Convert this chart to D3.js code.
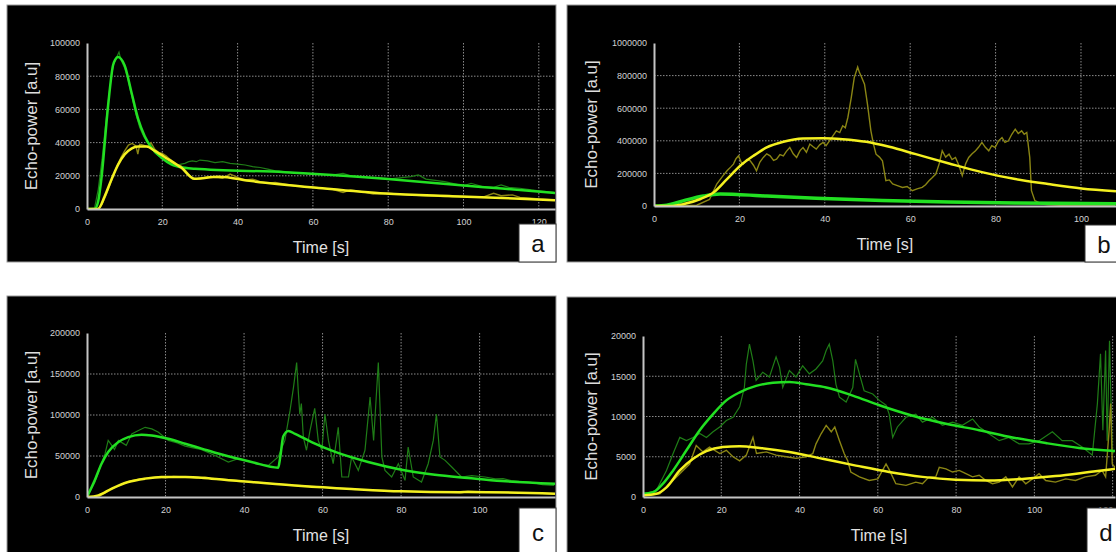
<html>
<head>
<meta charset="utf-8" />
<script src="https://d3js.org/d3.v7.min.js"></script>
<style>
  body { margin: 0; background: #fff; }
  svg { display: block; }
  .tick text { font: 9px "Liberation Sans", Arial, sans-serif; fill: #d2d2d2; }
</style>
</head>
<body>
<svg id="chart" width="1116" height="552"></svg>
<script>
// tick labels
var xTicks = [0, 20, 40, 60, 80, 100, 120];
var aYTicks = [0, 20000, 40000, 60000, 80000, 100000];
var bYTicks = [0, 200000, 400000, 600000, 800000, 1000000];
var cYTicks = [0, 50000, 100000, 150000, 200000];
var dYTicks = [0, 5000, 10000, 15000, 20000];

// panel a  [time s, echo-power]
var aGreenRaw = [[0,0],[2,500],[3,12000],[4,30000],[5,52000],[6,72000],[7,87000],[8,92000],[8.5,94500],[9,90000],[10,85000],[11,77000],[12,67000],[13,57000],[14,49000],[15,44000],[16,40000],[17,37000],[18,34000],[19,32000],[20,31000],[21,29000],[22,28000],[23,27500],[24,26500],[25,27000],[26,27500],[27,28500],[28,29000],[29,28500],[30,29500],[32,29000],[34,28000],[36,28500],[38,27500],[40,27000],[42,26500],[44,25500],[46,25000],[48,24000],[50,23000],[55,22000],[60,21000],[65,20500],[68,21500],[70,20000],[75,19000],[80,18000],[86,19500],[88,20500],[90,18000],[95,16500],[100,14000],[102,15500],[105,13500],[108,13000],[110,14500],[112,13000],[115,12500],[118,11500],[120,11000],[124,10000]];
var aGreenFit = [[0,0],[2,0],[3,5000],[3.8,17800],[5.6,62200],[6.9,86500],[7.5,90000],[8.25,91500],[9,90500],[10,86500],[11.8,70300],[13.6,54100],[15.3,44000],[17.1,37000],[19.8,30900],[22.4,26900],[26,24800],[28.7,24200],[52.6,22200],[79.2,18200],[97,14700],[110.3,12300],[124.3,9700]];
var aYellowRaw = [[0,0],[3,0],[4,3000],[5,8000],[6,14000],[7,20000],[8,26000],[9,31000],[10,35000],[11,38500],[12,39500],[13,38000],[13.5,33000],[14,39000],[15,38500],[16,37500],[17,40000],[18,36000],[19,34000],[20,33500],[21,32000],[22,30000],[23,28500],[24,26500],[25,26000],[26,23500],[27,21000],[28,18500],[30,18000],[32,19500],[34,19000],[36,18500],[38,21000],[40,19000],[42,17500],[44,18000],[46,16500],[48,15500],[50,16000],[55,14000],[60,13000],[65,12000],[68,10000],[70,11500],[73,10500],[76,9000],[80,9500],[85,8500],[90,8000],[95,7500],[100,7500],[105,7000],[108,9500],[110,8000],[113,8500],[115,7000],[118,6500],[120,6000],[124,5500]];
var aYellowFit = [[0,0],[2.9,0],[4.7,7700],[6.5,17800],[8.3,26900],[10,32900],[11.8,36400],[13.6,37600],[15.8,37600],[18,35000],[21.6,29900],[25.1,24800],[28.5,18200],[34.9,19400],[43.7,16800],[61.5,12700],[79.2,9300],[97,7700],[110.3,6700],[124.3,5300]];

// panel b
var bGreenRaw = [[0,0],[3,4000],[7,32000],[11.6,60000],[15.5,74000],[19.4,70000],[26.4,62000],[38,46000],[53.5,34000],[69,23000],[84.6,18500],[108,13500]];
var bGreenFit = [[0,0],[3,5000],[7,33000],[11.6,61000],[15.5,73000],[19.4,71000],[26.4,61000],[38,47000],[53.5,33000],[69,24000],[84.6,18000],[108.2,14000]];
var bYellowRaw = [[0,0],[5,0],[10,5000],[13,40000],[14.7,135000],[16,180000],[17.1,216000],[18,240000],[18.6,257000],[19.2,290000],[19.8,308000],[20.4,270000],[20.9,257000],[21.7,285000],[22.5,278000],[23.3,250000],[24,216000],[24.8,270000],[25.6,298000],[26.4,320000],[27.2,308000],[28,280000],[28.7,288000],[29.5,315000],[30.3,308000],[31,335000],[31.8,359000],[32.6,320000],[33.4,298000],[34.2,340000],[34.9,359000],[35.7,330000],[36.5,380000],[37.2,365000],[38,349000],[38.8,375000],[39.6,390000],[40.3,370000],[41.1,400000],[41.9,430000],[42.7,461000],[43.5,450000],[44.2,492000],[44.8,480000],[45.4,543000],[46.2,665000],[46.9,788000],[47.7,853000],[48.1,820000],[48.5,798000],[49.3,747000],[50,624000],[50.8,461000],[51.4,380000],[52,318000],[52.8,300000],[53.5,278000],[54.3,155000],[55.1,160000],[55.9,135000],[57,125000],[58.2,114000],[59.3,120000],[60.5,94000],[61.6,105000],[62.8,114000],[63.6,130000],[64.4,155000],[65.2,175000],[66,196000],[66.8,260000],[67.5,339000],[68.3,300000],[69.1,318000],[69.8,285000],[70.6,298000],[71.4,250000],[72.2,186000],[73,260000],[73.7,298000],[74.5,320000],[75.3,339000],[76,360000],[76.8,390000],[77.6,360000],[78.4,339000],[79.1,370000],[79.9,359000],[80.7,400000],[81.5,420000],[82.2,390000],[83,400000],[83.8,440000],[84.6,471000],[85.3,445000],[86.1,461000],[86.7,440000],[87.3,451000],[88,298000],[88.4,94000],[89.2,33000],[90.8,12000],[92.3,8000],[95,5000],[100,3000],[108,2000]];
var bYellowFit = [[0,0],[3.9,0],[7,12000],[10.9,43000],[14,84000],[17.1,165000],[20.2,247000],[23.3,308000],[26.4,359000],[30.3,394000],[34.9,414000],[39.6,416000],[44.2,410000],[49.7,394000],[55.1,363000],[61.3,318000],[69.1,261000],[76.8,208000],[84.6,165000],[92.3,135000],[100.1,108000],[108.2,90000]];

// panel c
var cGreenRaw = [[0,0],[2,18000],[3.5,38000],[4.6,52800],[5.4,69000],[6.3,63000],[7,58000],[8,69000],[9,66000],[10,63000],[11.4,77000],[13.1,81000],[14.8,85000],[16.5,83000],[18.2,79000],[20.7,69000],[23,66000],[25,62000],[27,60000],[29,58000],[31,54000],[33.4,48800],[36,42700],[38.5,46700],[41.9,42700],[44,40000],[46.2,38600],[48.7,48800],[50.4,69000],[51.7,105000],[52.6,134000],[53.4,164000],[53.8,130000],[54.2,101000],[54.6,114000],[55.1,73000],[55.9,57000],[56.8,81000],[58,108000],[58.9,69000],[59.8,57000],[60.6,101000],[61.5,69000],[62.7,40600],[64,85000],[64.9,24400],[66.6,24400],[67.4,48800],[69.1,32500],[70.8,57000],[72.1,122000],[73,69000],[74.2,164000],[75.1,48800],[75.9,32500],[77.6,24400],[79.3,40600],[81,20300],[81.8,61000],[83.1,24400],[85.2,18300],[86.9,40600],[88.2,69000],[89,101000],[89.9,48800],[91.2,44700],[92.9,36600],[95.4,24400],[98,26000],[101.4,24400],[104,22000],[106,22400],[108,20000],[110,19000],[113,18000],[116,15000],[119,14000]];
var cGreenFit = [[0,0],[2,20700],[3.7,40600],[5.4,54900],[8,67000],[10.5,73000],[13.9,76000],[16.5,75000],[20.7,71000],[25,65000],[29.2,59000],[33.4,53000],[37.7,47500],[41.9,42700],[48.7,35800],[49.2,48000],[50,74000],[51.3,80500],[53,77000],[57.2,67000],[63.2,55000],[71.6,42700],[80.1,33300],[88.6,27200],[97.1,23200],[105.6,19500],[119.2,16300]];
var cYellowRaw = [[0,0],[3,500],[5,6000],[7,11000],[9,16000],[11,19500],[13,21500],[15,23000],[18,24000],[20,23500],[22,25000],[25,24500],[28,23000],[30,24000],[33,22000],[36,21000],[40,19000],[44,17500],[48,16000],[52,14500],[56,13500],[60,12000],[65,10500],[70,9000],[75,8000],[80,7000],[85,6500],[90,6000],[95,5500],[97,7000],[100,6500],[105,6000],[110,5000],[115,4500],[119,4000]];
var cYellowFit = [[0,0],[2.9,2000],[6.3,10200],[10.5,18300],[14.8,22400],[19,24400],[25,24400],[31.7,22400],[41.9,18300],[54.7,13400],[67.4,9800],[80.1,6900],[95,5800],[97.1,6200],[119.2,4100]];

// panel d
var dGreenRaw = [[0,400],[3.4,800],[6,3300],[7.7,5400],[9.4,7400],[11.1,7000],[12.8,7400],[14.5,7900],[16.2,7400],[17.9,8100],[19.6,8700],[21.3,9500],[23,9900],[24.7,11200],[25.9,13600],[26.4,16500],[27.2,19000],[28.1,16900],[28.9,14500],[30.6,15500],[32.3,14900],[34,17400],[34.9,16100],[35.7,13600],[37.4,15700],[39.1,14900],[40.8,16300],[42.5,15300],[44.2,15900],[45.9,16900],[46.8,18200],[47.6,19000],[48.5,16900],[49.3,14000],[50.2,12400],[51.9,11800],[53.6,13600],[54.3,17100],[55.3,15300],[56.5,13200],[58.7,12800],[60.4,12000],[62.1,11400],[62.9,10300],[63.8,7400],[65,8700],[67.2,9900],[69.7,10300],[71.4,9300],[74,9900],[76.5,8900],[79.1,9300],[81.6,8900],[84.2,9700],[85.9,8700],[88.4,7850],[91,7000],[93.5,7400],[96.1,6600],[98.6,6600],[101.2,7000],[104.6,8100],[107.1,7000],[109.7,7000],[112.2,6200],[114.8,5200],[116.1,11600],[116.9,17800],[117.5,8300],[118.2,18200],[118.6,7000],[119.2,19400],[119.9,5400],[120.6,5800]];
var dGreenFit = [[0,400],[2.6,600],[5.1,1650],[7.7,3300],[11.1,5800],[14.5,8300],[17.9,10300],[21.3,12000],[24.7,13000],[28.9,13800],[33.2,14200],[37.4,14300],[41.7,14000],[46.8,13600],[53.6,12600],[60.4,11400],[68.9,10100],[77.4,9100],[85.9,8300],[94.4,7400],[102.9,6700],[111.4,6100],[120.6,5700]];
var dYellowRaw = [[0,200],[4.3,400],[6.8,1650],[9.4,2900],[11.9,4100],[13.6,6400],[15.3,5600],[17,6200],[19.6,5400],[21.3,5800],[23,5000],[24.7,4500],[26.4,5200],[28.1,7400],[29,5400],[31.5,5600],[34,5200],[36.6,5000],[39.1,4800],[41.7,5000],[43.4,5400],[44.2,6600],[45.5,7850],[46.8,8900],[48.1,8100],[49,8700],[50.2,7000],[51.4,5400],[52.3,4500],[53.1,3100],[55.3,2500],[57.8,2050],[60,2250],[61.2,3300],[62.1,4100],[63,3300],[64.6,1650],[67.2,1450],[69.7,1850],[71.4,1650],[73.1,2500],[74.8,2500],[75.7,3700],[77.4,3500],[79.1,3100],[80.8,3300],[82.5,2900],[84.2,2500],[85.9,2700],[87.6,2050],[89.3,1650],[91,1850],[92.7,2500],[94.4,1250],[96.1,2500],[97.8,1650],[99.5,2250],[101.2,2900],[102.9,2050],[105.4,1850],[108,2250],[110.5,2050],[113,2500],[115.6,2700],[117.3,3300],[118.2,2500],[119.1,8300],[119.5,11600],[119.9,4100],[120.6,3700]];
var dYellowFit = [[0,200],[3.4,400],[6,1200],[9.4,3300],[12.8,4750],[16.2,5700],[20.4,6200],[24.7,6300],[29.8,6100],[37.4,5600],[45.9,4750],[54.4,3900],[62.9,3100],[71.4,2500],[79.9,2150],[88.4,2050],[96.9,2250],[105.4,2600],[114,3100],[120.6,3500]];

var panels = [
  { name: "a", box: [7, 5, 549, 257], px: [87, 555], tMax: 124.3, py: [209, 43], yMax: 100000, yTicks: aYTicks,
    greenRaw: aGreenRaw, greenFit: aGreenFit, yellowRaw: aYellowRaw, yellowFit: aYellowFit,
    tag: [519, 224, 37, 38], greenW: 2.5 },
  { name: "b", box: [567, 5, 560, 257], px: [654, 1116], tMax: 108.2, py: [206, 43], yMax: 1000000, yTicks: bYTicks,
    greenRaw: bGreenRaw, greenFit: bGreenFit, yellowRaw: bYellowRaw, yellowFit: bYellowFit,
    tag: [1085, 225, 40, 37], greenW: 3.5 },
  { name: "c", box: [7, 296, 549, 260], px: [87, 555], tMax: 119.2, py: [497, 333], yMax: 200000, yTicks: cYTicks,
    greenRaw: cGreenRaw, greenFit: cGreenFit, yellowRaw: cYellowRaw, yellowFit: cYellowFit,
    tag: [519, 508, 37, 48], greenW: 2.5 },
  { name: "d", box: [567, 297, 560, 260], px: [643, 1115], tMax: 120.6, py: [497, 336], yMax: 20000, yTicks: dYTicks,
    greenRaw: dGreenRaw, greenFit: dGreenFit, yellowRaw: dYellowRaw, yellowFit: dYellowFit,
    tag: [1087, 508, 40, 48], greenW: 2.5 }
];

var svg = d3.select("#chart");

panels.forEach(function (p, i) {
  var g = svg.append("g");
  var x = d3.scaleLinear().domain([0, p.tMax]).range(p.px);
  var y = d3.scaleLinear().domain([0, p.yMax]).range(p.py);

  g.append("rect")
    .attr("x", p.box[0]).attr("y", p.box[1])
    .attr("width", p.box[2]).attr("height", p.box[3])
    .attr("fill", "#000").attr("stroke", "#9a9a9a").attr("stroke-width", 1);

  // dotted grid
  g.selectAll(".vgrid")
    .data(xTicks.filter((t) => t > 0 && t <= p.tMax))
    .enter().append("line")
    .attr("x1", (d) => x(d)).attr("x2", (d) => x(d))
    .attr("y1", p.py[1]).attr("y2", p.py[0])
    .attr("stroke", "#8a8a8a").attr("stroke-width", 1).attr("stroke-dasharray", "1.5,1.5");
  g.selectAll(".hgrid")
    .data(p.yTicks.filter((v) => v > 0 && v < p.yMax))
    .enter().append("line")
    .attr("x1", p.px[0]).attr("x2", p.px[1])
    .attr("y1", (d) => y(d)).attr("y2", (d) => y(d))
    .attr("stroke", "#8a8a8a").attr("stroke-width", 1).attr("stroke-dasharray", "1.5,1.5");

  var clipId = "clip" + i;
  svg.append("clipPath").attr("id", clipId).append("rect")
    .attr("x", p.px[0]).attr("y", p.py[1] - 10)
    .attr("width", p.px[1] - p.px[0]).attr("height", p.py[0] - p.py[1] + 10);

  var line = d3.line().x((d) => x(d[0])).y((d) => y(d[1]));
  var smooth = d3.line().x((d) => x(d[0])).y((d) => y(d[1])).curve(d3.curveMonotoneX);
  var plot = g.append("g").attr("clip-path", "url(#" + clipId + ")");

  plot.append("path").datum(p.greenRaw).attr("d", line)
    .attr("fill", "none").attr("stroke", "#1f7d17").attr("stroke-width", 1.2);
  plot.append("path").datum(p.yellowRaw).attr("d", line)
    .attr("fill", "none").attr("stroke", "#8a8514").attr("stroke-width", 1.4);
  plot.append("path").datum(p.greenFit).attr("d", smooth)
    .attr("fill", "none").attr("stroke", "#22e022").attr("stroke-width", p.greenW);
  plot.append("path").datum(p.yellowFit).attr("d", smooth)
    .attr("fill", "none").attr("stroke", "#f4f020").attr("stroke-width", 2.5);

  // axes
  var yAxis = g.append("g")
    .attr("transform", "translate(" + p.px[0] + ",0)")
    .call(d3.axisLeft(y).tickValues(p.yTicks).tickSize(0).tickPadding(7).tickFormat(d3.format("d")));
  var xAxis = g.append("g")
    .attr("transform", "translate(0," + p.py[0] + ")")
    .call(d3.axisBottom(x).tickValues(xTicks.filter((t) => t <= p.tMax)).tickSize(0).tickPadding(10).tickFormat(d3.format("d")));
  // keep a label that sits on the right edge inside the picture
  xAxis.selectAll(".tick text")
    .filter((d) => x(d) > 1105)
    .attr("text-anchor", "end");
  [xAxis, yAxis].forEach(function (a) {
    a.select(".domain").attr("stroke", "#c4c4c4").attr("stroke-width", 2);
  });

  // axis titles
  g.append("text")
    .attr("transform", "translate(" + (p.box[0] + 24) + "," + ((p.py[0] + p.py[1]) / 2) + ") rotate(-90)")
    .attr("text-anchor", "middle").attr("dy", "0.35em")
    .style("font", "17px 'Liberation Sans', Arial, sans-serif").style("fill", "#dedede")
    .text("Echo-power [a.u]");
  g.append("text")
    .attr("x", (p.px[0] + p.px[1]) / 2).attr("y", p.py[0] + 44)
    .attr("text-anchor", "middle")
    .style("font", "16px 'Liberation Sans', Arial, sans-serif").style("fill", "#e2e2e2")
    .text("Time [s]");

  // panel letter
  g.append("rect")
    .attr("x", p.tag[0]).attr("y", p.tag[1])
    .attr("width", p.tag[2]).attr("height", p.tag[3])
    .attr("fill", "#fff").attr("stroke", "#333").attr("stroke-width", 1);
  g.append("text")
    .attr("x", p.tag[0] + 19).attr("y", p.tag[1] + p.tag[3] / 2 + 9)
    .attr("text-anchor", "middle")
    .style("font", "24px 'Liberation Sans Narrow', 'Liberation Sans', Arial, sans-serif").style("fill", "#111")
    .text(p.name);
});
</script>
</body>
</html>
